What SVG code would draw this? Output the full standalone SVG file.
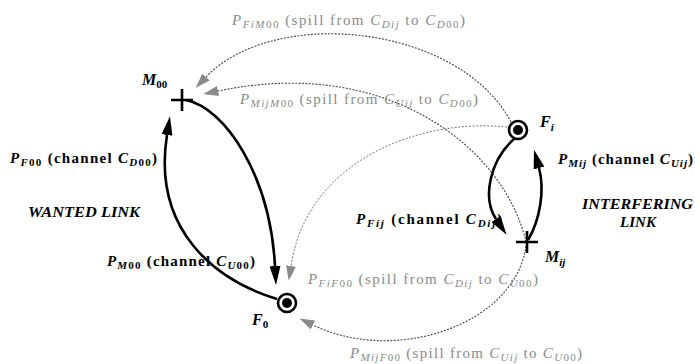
<svg xmlns="http://www.w3.org/2000/svg" width="695" height="364" viewBox="0 0 695 364">
<style>
text{font-family:"Liberation Serif","Times New Roman","DejaVu Serif",serif;}
.b{font-weight:bold;font-size:15px;fill:#000;}
.g{font-size:15px;fill:#8a8a8a;}
.i{font-style:italic;}
.s{font-size:11px;}
.node{font-weight:bold;font-style:italic;font-size:16px;}
.big{font-weight:bold;font-style:italic;font-size:15px;}
.thick{fill:none;stroke:#000;stroke-width:2.6;}
.dot{fill:none;stroke:#444;stroke-width:1.1;stroke-dasharray:2 1.4;}
.dotl{fill:none;stroke:#777;stroke-width:1;stroke-dasharray:2 1.6;}
.cross{stroke:#000;stroke-width:2.6;fill:none;}
</style>
<defs>
<marker id="ah" markerUnits="userSpaceOnUse" markerWidth="19" markerHeight="11" viewBox="0 0 19 11" refX="0" refY="5.5" orient="auto"><path d="M0,0 L19,5.5 L0,11 z" fill="#000"/></marker>
<marker id="gh" markerUnits="userSpaceOnUse" markerWidth="15" markerHeight="10" viewBox="0 0 15 10" refX="0" refY="5" orient="auto"><path d="M0,0 L15,5 L0,10 z" fill="#8a8a8a"/></marker>
</defs>
<rect width="695" height="364" fill="#fff"/>
<g id="connectors">
<path class="thick" d="M186,100 C225,108 270,175 275,266" marker-end="url(#ah)"/>
<path class="thick" d="M277,299 C215,280 152,230 167,135" marker-end="url(#ah)"/>
<path class="thick" d="M514,139 C490,160 482,198 496,219" marker-end="url(#ah)"/>
<path class="thick" d="M528,240 C540,220 545,190 539,168" marker-end="url(#ah)"/>
<path class="dot" d="M511,122 C460,25 275,5 206,77" marker-end="url(#gh)"/>
<path class="dot" d="M526,242 C505,150 390,55 218,91" marker-end="url(#gh)"/>
<path class="dotl" d="M507,127 C420,118 307,160 291,266" marker-end="url(#gh)"/>
<path class="dot" d="M526,246 C515,325 395,365 313,325" marker-end="url(#gh)"/>
</g>
<g id="M00">
<path class="cross" d="M171,100 H193 M182,89 V111"/>
<text class="node" x="142" y="85">M<tspan class="s" font-style="normal" dy="3">00</tspan></text>
</g>
<g id="F0">
<circle cx="287" cy="303" r="9" fill="#fff" stroke="#000" stroke-width="2.6"/>
<circle cx="287" cy="303" r="5" fill="#000"/>
<text class="node" x="252" y="325">F<tspan class="s" font-style="normal" dy="3">0</tspan></text>
</g>
<g id="Fi">
<circle cx="518" cy="130" r="9" fill="#fff" stroke="#000" stroke-width="2.6"/>
<circle cx="518" cy="130" r="5" fill="#000"/>
<text class="node" x="540" y="127">F<tspan class="s" dy="4">i</tspan></text>
</g>
<g id="Mij">
<path class="cross" d="M516,242 H538 M527,231 V253"/>
<text class="node" x="545" y="262">M<tspan class="s" dy="4">ij</tspan></text>
</g>
<g id="labels">
<text class="g" x="232" y="25" textLength="233" lengthAdjust="spacing"><tspan class="i">P</tspan><tspan class="s i" dy="3">FiM</tspan><tspan class="s">00</tspan><tspan dy="-3"> (spill from </tspan><tspan class="i">C</tspan><tspan class="s i" dy="3">Dij</tspan><tspan dy="-3"> to </tspan><tspan class="i">C</tspan><tspan class="s i" dy="3">D</tspan><tspan class="s">00</tspan><tspan dy="-3">)</tspan></text>
<text class="g" x="240" y="104" textLength="238" lengthAdjust="spacing"><tspan class="i">P</tspan><tspan class="s i" dy="3">MijM</tspan><tspan class="s">00</tspan><tspan dy="-3"> (spill from </tspan><tspan class="i">C</tspan><tspan class="s i" dy="3">Uij</tspan><tspan dy="-3"> to </tspan><tspan class="i">C</tspan><tspan class="s i" dy="3">D</tspan><tspan class="s">00</tspan><tspan dy="-3">)</tspan></text>
<text class="g" x="308" y="284" textLength="230" lengthAdjust="spacing"><tspan class="i">P</tspan><tspan class="s i" dy="3">FiF</tspan><tspan class="s">00</tspan><tspan dy="-3"> (spill from </tspan><tspan class="i">C</tspan><tspan class="s i" dy="3">Dij</tspan><tspan dy="-3"> to </tspan><tspan class="i">C</tspan><tspan class="s i" dy="3">U</tspan><tspan class="s">00</tspan><tspan dy="-3">)</tspan></text>
<text class="g" x="350" y="358" textLength="232" lengthAdjust="spacing"><tspan class="i">P</tspan><tspan class="s i" dy="3">MijF</tspan><tspan class="s">00</tspan><tspan dy="-3"> (spill from </tspan><tspan class="i">C</tspan><tspan class="s i" dy="3">Uij</tspan><tspan dy="-3"> to </tspan><tspan class="i">C</tspan><tspan class="s i" dy="3">U</tspan><tspan class="s">00</tspan><tspan dy="-3">)</tspan></text>
<text class="b" x="10" y="163" textLength="147" lengthAdjust="spacing"><tspan class="i">P</tspan><tspan class="s i" dy="3">F</tspan><tspan class="s">00</tspan><tspan dy="-3"> (channel </tspan><tspan class="i">C</tspan><tspan class="s i" dy="3">D</tspan><tspan class="s">00</tspan><tspan dy="-3">)</tspan></text>
<text class="b" x="107" y="266" textLength="148" lengthAdjust="spacing"><tspan class="i">P</tspan><tspan class="s i" dy="3">M</tspan><tspan class="s">00</tspan><tspan dy="-3"> (channel </tspan><tspan class="i">C</tspan><tspan class="s i" dy="3">U</tspan><tspan class="s">00</tspan><tspan dy="-3">)</tspan></text>
<text class="b" x="356" y="224" textLength="146" lengthAdjust="spacing"><tspan class="i">P</tspan><tspan class="s i" dy="3">Fij</tspan><tspan dy="-3"> (channel </tspan><tspan class="i">C</tspan><tspan class="s i" dy="3">Dij</tspan><tspan dy="-3">)</tspan></text>
<text class="b" x="558" y="164" textLength="135" lengthAdjust="spacing"><tspan class="i">P</tspan><tspan class="s i" dy="3">Mij</tspan><tspan dy="-3"> (channel </tspan><tspan class="i">C</tspan><tspan class="s i" dy="3">Uij</tspan><tspan dy="-3">)</tspan></text>
<text class="big" x="28" y="217" font-size="16" textLength="112" lengthAdjust="spacingAndGlyphs">WANTED LINK</text>
<text class="big" x="582" y="209" textLength="111" lengthAdjust="spacingAndGlyphs">INTERFERING</text>
<text class="big" x="638" y="227" text-anchor="middle">LINK</text>
</g>
</svg>
